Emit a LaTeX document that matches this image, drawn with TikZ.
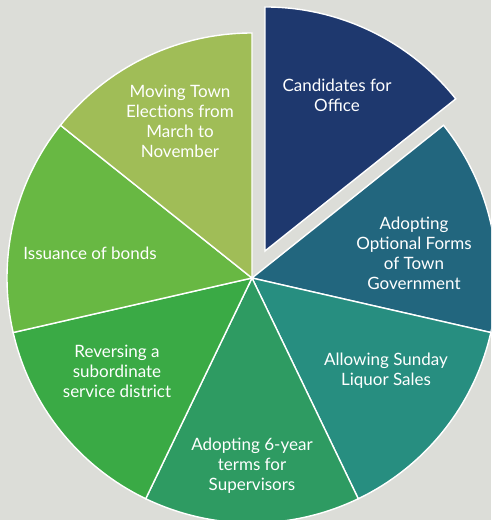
\documentclass[tikz,border=0pt]{standalone}
\usepackage{fontspec}
\setmainfont{Lato}
\definecolor{bgray}{HTML}{DCDDD8}
\definecolor{cnavy}{HTML}{1E386E}
\definecolor{cpetrol}{HTML}{22667E}
\definecolor{cteal}{HTML}{278E80}
\definecolor{cjade}{HTML}{2E9B62}
\definecolor{cgreen}{HTML}{3AAA45}
\definecolor{clime}{HTML}{68B843}
\definecolor{colive}{HTML}{A0BD57}
\tikzset{
  slice/.style={draw=white,line width=1.4pt,line join=miter},
  lbl/.style={text=white,align=center,inner sep=0pt,
    font=\fontsize{17}{20}\selectfont}
}
\begin{document}
\begin{tikzpicture}[x=1pt,y=1pt]
      \useasboundingbox (0,0) rectangle (491,520);
      \clip (0,0) rectangle (491,520);
      \fill[bgray] (0,0) rectangle (491,520);
      \coordinate (o) at (252,242);
      \coordinate (oc) at ([shift={(64.29:30)}]o);
      % slices
      \filldraw[slice,fill=cpetrol] (o) -- ++(38.57:245) arc[start angle=38.57,end angle=-12.86,radius=245] -- cycle;
      \filldraw[slice,fill=cteal] (o) -- ++(-12.86:245) arc[start angle=-12.86,end angle=-64.29,radius=245] -- cycle;
      \filldraw[slice,fill=cjade] (o) -- ++(-64.29:245) arc[start angle=-64.29,end angle=-115.71,radius=245] -- cycle;
      \filldraw[slice,fill=cgreen] (o) -- ++(-115.71:245) arc[start angle=-115.71,end angle=-167.14,radius=245] -- cycle;
      \filldraw[slice,fill=clime] (o) -- ++(192.86:245) arc[start angle=192.86,end angle=141.43,radius=245] -- cycle;
      \filldraw[slice,fill=colive] (o) -- ++(141.43:245) arc[start angle=141.43,end angle=90,radius=245] -- cycle;
      \filldraw[slice,fill=cnavy] (oc) -- ++(90:244) arc[start angle=90,end angle=38.57,radius=244] -- cycle;
      % labels
      \node[lbl] (cand) at (337,425) {Candidates for\\Office};
      \node[lbl] (forms) at (414,267) {Adopting\\Optional Forms\\of Town\\Government};
      \node[lbl] (sunday) at (386,149) {Allowing Sunday\\Liquor Sales};
      \node[lbl] (terms) at (252,54) {Adopting 6-year\\terms for\\Supervisors};
      \node[lbl] (district) at (117,149) {Reversing a\\subordinate\\service district};
      \node[lbl] (bonds) at (90,267) {Issuance of bonds};
      \node[lbl] (move) at (180,399) {Moving Town\\Elections from\\March to\\November};
    \end{tikzpicture}
\end{document}
